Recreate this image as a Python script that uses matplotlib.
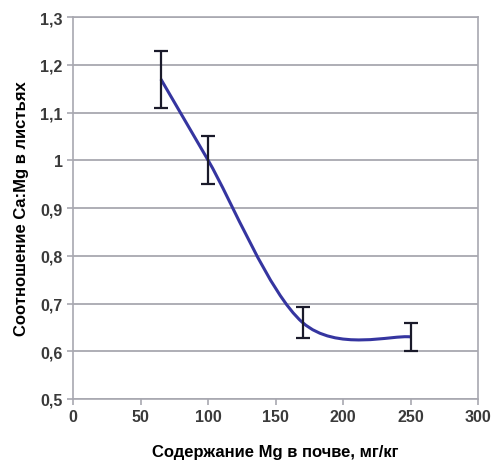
import matplotlib.pyplot as plt
import numpy as np
from matplotlib.path import Path
from matplotlib.patches import PathPatch
from matplotlib.ticker import FuncFormatter

mg_soil = [65, 100, 170, 250]
ca_mg_ratio = [1.17, 1.0, 0.66, 0.63]
err = [0.06, 0.05, 0.033, 0.03]

x_ticks = [0, 50, 100, 150, 200, 250, 300]
y_ticks = [0.5, 0.6, 0.7, 0.8, 0.9, 1.0, 1.1, 1.2, 1.3]

plt.rcParams['font.family'] = ['Liberation Sans', 'DejaVu Sans']

fig = plt.figure(figsize=(4.94, 4.64), dpi=100)
ax = fig.add_axes([0.148, 0.138, 0.82, 0.823])

# Excel-style smoothed line through the points (bezier control points)
pts = np.column_stack([mg_soil, ca_mg_ratio])
verts = [pts[0]]
codes = [Path.MOVETO]
n = len(pts)
for i in range(n - 1):
    p0 = pts[max(i - 1, 0)]
    p1 = pts[i]
    p2 = pts[i + 1]
    p3 = pts[min(i + 2, n - 1)]
    verts += [p1 + (p2 - p0) / 6, p2 - (p3 - p1) / 6, p2]
    codes += [Path.CURVE4] * 3
ax.add_patch(PathPatch(Path(verts, codes), fill=False, edgecolor='#3535a0',
                       lw=2.2, zorder=3))

ax.errorbar(mg_soil, ca_mg_ratio, yerr=err, fmt='none', ecolor='#1a1a2a',
            elinewidth=1.6, capsize=5, capthick=1.6, zorder=4)

ax.set_xlim(0, 300)
ax.set_ylim(0.5, 1.3)
ax.set_xticks(x_ticks)
ax.set_yticks(y_ticks)
ax.yaxis.set_major_formatter(FuncFormatter(lambda v, p: ('%g' % round(v, 1)).replace('.', ',')))
ax.grid(axis='y', color='#a8a8b0', lw=1.3)
ax.set_axisbelow(True)
for s in ax.spines.values():
    s.set_color('#a8a8b0')
    s.set_linewidth(1.2)
ax.tick_params(colors='#a8a8b0', direction='out', length=4, width=1.2,
               labelcolor='#3a3a3a', labelsize=11.5)
for lbl in ax.get_xticklabels() + ax.get_yticklabels():
    lbl.set_fontweight('bold')

ax.set_xlabel('Содержание Mg в почве, мг/кг', fontsize=12, fontweight='bold', labelpad=14)
ax.set_ylabel('Соотношение Ca:Mg в листьях', fontsize=12, fontweight='bold', labelpad=8)

fig.savefig('out.png', dpi=100)
